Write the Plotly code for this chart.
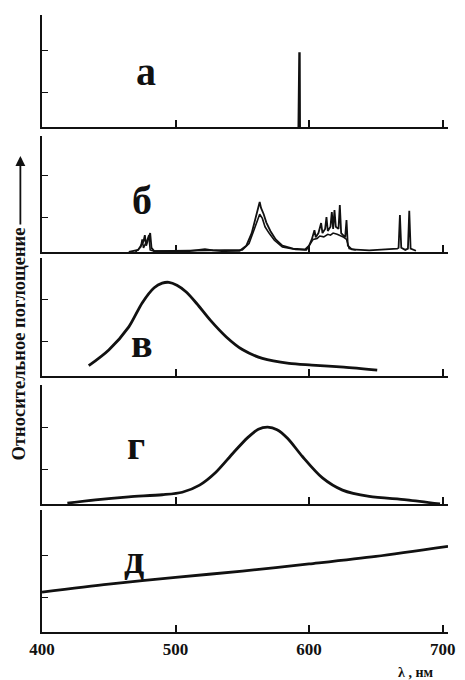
import plotly.graph_objects as go

# ---------------- data (relative absorption, arbitrary units) ----------------
wl_a = [592.2, 592.4, 592.8, 593.0]
abs_a = [0.0, 1.78, 1.78, 0.0]

wl_b1 = [465, 472, 476, 477, 478, 480, 481, 482, 484, 510, 516, 522, 528, 535, 548, 553, 557,
         560, 562, 563, 564, 566, 568, 571, 575, 580, 588, 597, 600, 602, 604, 605, 607, 609,
         610, 612, 613, 614, 616, 617, 618, 619, 620, 622, 623, 624, 627, 628, 629, 632, 645,
         660, 666, 667, 668, 669, 672, 674, 675, 676, 680]
abs_b1 = [0.0, 0.05, 0.25, 0.40, 0.15, 0.35, 0.45, 0.10, 0.02, 0.02, 0.05, 0.07, 0.04, 0.02,
          0.03, 0.15, 0.45, 0.85, 1.10, 1.19, 1.05, 0.90, 0.70, 0.50, 0.30, 0.15, 0.08, 0.06,
          0.15, 0.30, 0.52, 0.35, 0.45, 0.69, 0.45, 0.55, 0.83, 0.50, 0.60, 0.95, 0.55, 1.00,
          0.60, 0.55, 1.12, 0.45, 0.35, 0.76, 0.15, 0.06, 0.04, 0.06, 0.08, 0.10, 0.88, 0.10,
          0.05, 0.08, 0.98, 0.08, 0.03]

wl_b2 = [470, 474, 475, 476, 479, 480, 481, 484, 550, 555, 559, 561, 563, 565, 567, 570, 574,
         580, 590, 598, 601, 603, 606, 608, 611, 614, 616, 618, 621, 624, 626, 628, 630, 635]
abs_b2 = [0.0, 0.12, 0.30, 0.10, 0.30, 0.40, 0.05, 0.02, 0.05, 0.20, 0.55, 0.75, 0.90, 0.80,
          0.60, 0.45, 0.28, 0.12, 0.06, 0.05, 0.20, 0.30, 0.32, 0.38, 0.36, 0.42, 0.40, 0.45,
          0.42, 0.38, 0.35, 0.30, 0.08, 0.05]

wl_c = [435, 450, 465, 475, 484, 490, 495, 501, 508, 516, 526, 538, 550, 565, 585, 602, 626, 651]
abs_c = [0.245, 0.62, 1.17, 1.74, 2.10, 2.21, 2.23, 2.16, 2.00, 1.72, 1.33, 0.93, 0.63, 0.42,
         0.30, 0.26, 0.21, 0.14]

wl_d = [419, 440, 465, 490, 505, 518, 530, 543, 554, 562, 569, 576, 584, 595, 610, 625, 645,
        673, 698]
abs_d = [0.02, 0.10, 0.17, 0.22, 0.28, 0.45, 0.75, 1.21, 1.58, 1.78, 1.83, 1.77, 1.56, 1.13,
         0.62, 0.33, 0.18, 0.10, 0.0]

wl_e = [400, 450, 500, 550, 600, 650, 704]
abs_e = [0.95, 1.14, 1.30, 1.45, 1.62, 1.80, 2.04]

panel_labels = ["а", "б", "в", "г", "д"]
x_ticks = [400, 500, 600, 700]
x_ticktext = ["400", "500", "600", "700"]
y_title = "Относительное поглощение"
x_title = "λ , нм"

# ---------------- figure ----------------
W, H = 465, 680
ML, MR, MT, MB = 42, 10, 15, 48
PW, PH = W - ML - MR, H - MT - MB

def py(p):  # pixel y -> paper y
    return (H - MB - p) / PH

def px(p):  # pixel x -> paper x
    return (p - ML) / PW

# panel pixel extents (top, bottom)
panels = [(15, 127), (136, 252), (258, 376), (385, 504), (510, 632)]

fig = go.Figure()
series = [
    [(wl_a, abs_a, 2.4, "linear")],
    [(wl_b1, abs_b1, 1.8, "linear"), (wl_b2, abs_b2, 1.6, "linear")],
    [(wl_c, abs_c, 2.8, "spline")],
    [(wl_d, abs_d, 2.8, "spline")],
    [(wl_e, abs_e, 2.8, "spline")],
]
ink = "#111111"
for i, trs in enumerate(series):
    n = i + 1
    for (xs, ys, w, shp) in trs:
        fig.add_trace(go.Scatter(x=xs, y=ys, mode="lines", xaxis=f"x{n}", yaxis=f"y{n}",
                                 line=dict(color=ink, width=w, shape=shp, smoothing=0.8),
                                 showlegend=False, hoverinfo="skip"))

lay = {}
for i, (top, bot) in enumerate(panels):
    n = i + 1
    hunits = (bot - top) / 42.0
    xk = "xaxis" if n == 1 else f"xaxis{n}"
    yk = "yaxis" if n == 1 else f"yaxis{n}"
    last = n == 5
    lay[xk] = dict(domain=[0, 1], range=[400, 704], anchor=f"y{n}",
                   showline=True, linecolor=ink, linewidth=2.2,
                   ticks="inside", ticklen=7, tickwidth=1.5, tickcolor=ink,
                   tickvals=x_ticks, ticktext=x_ticktext,
                   showticklabels=last, showgrid=False, zeroline=False,
                   tickfont=dict(family="Liberation Serif", size=17, color=ink, weight="bold"))
    lay[yk] = dict(domain=[py(bot), py(top)], range=[0, hunits], anchor=f"x{n}",
                   showline=True, linecolor=ink, linewidth=2.2,
                   ticks="inside", ticklen=6, tickwidth=1.2, tickcolor=ink,
                   tickvals=[0.82, 1.82], showticklabels=False,
                   showgrid=False, zeroline=False)

label_pos = [(148, 71), (144, 201), (144, 343), (138, 445), (136, 559)]
annotations = []
for lab, (lx, ly) in zip(panel_labels, label_pos):
    annotations.append(dict(text=f"<b>{lab}</b>", x=px(lx), y=py(ly), xref="paper", yref="paper",
                            showarrow=False, xanchor="center", yanchor="middle",
                            font=dict(family="Liberation Serif", size=40, color=ink)))
annotations.append(dict(text=f"<b>{y_title}</b>", x=px(19), y=py(344), xref="paper", yref="paper",
                        showarrow=False, textangle=-90, xanchor="center", yanchor="middle",
                        font=dict(family="Liberation Serif", size=18.5, color=ink)))
annotations.append(dict(text="", x=px(20), y=py(156), xref="paper", yref="paper",
                        showarrow=True, ax=0, ay=70, arrowhead=2, arrowsize=1.1,
                        arrowwidth=1.8, arrowcolor=ink))
annotations.append(dict(text=f"<b>{x_title}</b>", x=px(422), y=py(672), xref="paper", yref="paper",
                        showarrow=False, xanchor="center", yanchor="middle",
                        font=dict(family="Liberation Serif", size=14, color=ink)))

fig.update_layout(width=W, height=H, margin=dict(l=ML, r=MR, t=MT, b=MB, pad=0),
                  paper_bgcolor="white", plot_bgcolor="white",
                  annotations=annotations, **lay)

fig.write_html("out.html", config={"displayModeBar": False},
               post_script="document.body.style.margin='0';document.body.style.overflow='hidden';")
